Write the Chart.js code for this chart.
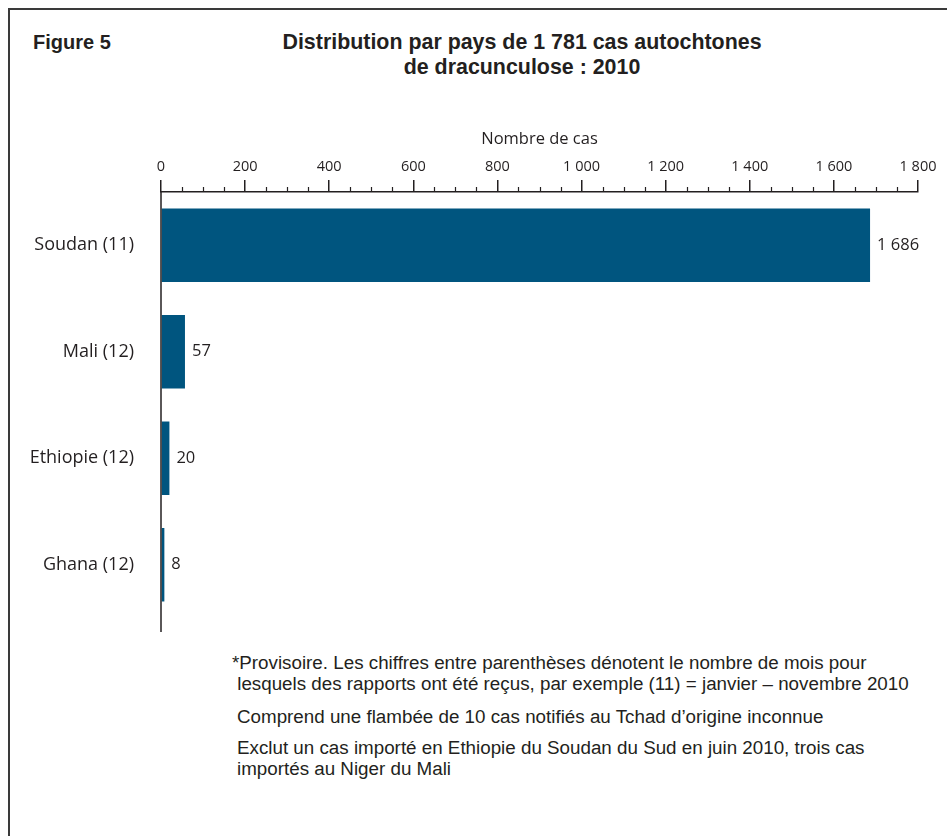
<!DOCTYPE html>
<html>
<head>
<meta charset="utf-8">
<script src="https://cdn.jsdelivr.net/npm/chart.js@4/dist/chart.umd.min.js"></script>
<style>
  body { margin: 0; background: #fff; width: 947px; height: 836px; overflow: hidden; position: relative; }
  #frame { position: absolute; left: 8px; top: 8px; width: 960px; height: 860px; border-left: 2px solid #3a3a3a; border-top: 2px solid #3a3a3a; }
  .head { position: absolute; font-family: "Liberation Sans", Arial, sans-serif; font-weight: bold; color: #231f20; }
  #fig { left: 33px; top: 31px; font-size: 20px; }
  #title { left: 222px; width: 600px; top: 30px; text-align: center; line-height: 25px; font-size: 21.4px; }
  #chart-box { position: absolute; left: 0; top: 120px; width: 947px; height: 520px; }
  #chart-box canvas { display: block; }
  .notes { position: absolute; font-family: "Liberation Sans", Arial, sans-serif; font-size: 18.8px; color: #231f20; line-height: 21px; white-space: nowrap; }
</style>
</head>
<body>
<div id="frame"></div>
<div class="head" id="fig">Figure 5</div>
<div class="head" id="title">Distribution par pays de 1 781 cas autochtones<br>de dracunculose : 2010</div>
<div id="chart-box"><canvas id="chart" width="947" height="520"></canvas></div>
<div class="notes" style="left:232px;top:652px">*Provisoire. Les chiffres entre parenthèses dénotent le nombre de mois pour<br>&nbsp;lesquels des rapports ont été reçus, par exemple (11) = janvier – novembre 2010</div>
<div class="notes" style="left:237px;top:706px">Comprend une flambée de 10 cas notifiés au Tchad d’origine inconnue</div>
<div class="notes" style="left:237px;top:737px">Exclut un cas importé en Ethiopie du Soudan du Sud en juin 2010, trois cas<br>importés au Niger du Mali</div>
<script>
const categories = ['Soudan (11)', 'Mali (12)', 'Ethiopie (12)', 'Ghana (12)']
const cases = [1686, 57, 20, 8]
const axisMax = 1800
const majorStep = 200
const minorStep = 50

const barColor = '#00557f'
const inkColor = '#231f20'
const labelFont = '"Open Sans", "Noto Sans", sans-serif'

function spaced(v) {
  return String(v).replace(/\B(?=(\d{3})+(?!\d))/g, ' ')
}

// minor ticks on the top axis + the left axis line (runs a bit past the last bar)
const axisExtras = {
  id: 'axisExtras',
  afterDraw(chart) {
    const ctx = chart.ctx
    const x = chart.scales.x
    const area = chart.chartArea
    ctx.save()
    ctx.strokeStyle = inkColor
    ctx.lineWidth = 1.2
    ctx.beginPath()
    for (let v = 0; v <= axisMax; v += minorStep) {
      if (v % majorStep === 0) continue
      const px = Math.round(x.getPixelForValue(v)) + 0.5
      ctx.moveTo(px, area.top)
      ctx.lineTo(px, area.top - 5)
    }
    ctx.stroke()
    ctx.lineWidth = 1.5
    ctx.beginPath()
    ctx.moveTo(area.left, area.top)
    ctx.lineTo(area.left, area.bottom + 14)
    ctx.stroke()
    ctx.restore()
  }
}

const valueLabels = {
  id: 'valueLabels',
  afterDatasetsDraw(chart) {
    const ctx = chart.ctx
    const meta = chart.getDatasetMeta(0)
    ctx.save()
    ctx.fillStyle = inkColor
    ctx.font = '16.5px ' + labelFont
    ctx.textBaseline = 'middle'
    meta.data.forEach((bar, i) => {
      ctx.fillText(spaced(cases[i]), bar.x + 7, bar.y)
    })
    ctx.restore()
  }
}

new Chart(document.getElementById('chart'), {
  type: 'bar',
  data: {
    labels: categories,
    datasets: [{
      data: cases,
      backgroundColor: barColor,
      borderWidth: 0,
      categoryPercentage: 0.69,
      barPercentage: 1
    }]
  },
  options: {
    indexAxis: 'y',
    responsive: false,
    animation: false,
    layout: { padding: { left: 0, right: 29, top: 0, bottom: 22 } },
    plugins: { legend: { display: false }, tooltip: { enabled: false } },
    scales: {
      x: {
        position: 'top',
        min: 0,
        max: axisMax,
        afterFit(s) { s.height = 72 },
        ticks: {
          stepSize: majorStep,
          padding: 4,
          color: inkColor,
          font: { family: labelFont, size: 14.5 },
          callback: v => spaced(v),
          maxRotation: 0
        },
        grid: { drawOnChartArea: false, drawTicks: true, tickLength: 12, color: inkColor, lineWidth: 1.5 },
        border: { display: true, color: inkColor, width: 1.5 },
        title: {
          display: true,
          text: 'Nombre de cas',
          color: inkColor,
          font: { family: labelFont, size: 16.5 },
          padding: { top: 9, bottom: 0 }
        }
      },
      y: {
        // fixed width, and no label padding eaten from the plot height
        afterFit(s) {
          s.width = 161
          s.paddingTop = 0
          s.paddingBottom = 0
        },
        ticks: {
          padding: 27,
          color: inkColor,
          font: { family: labelFont, size: 18 }
        },
        grid: { display: false, drawTicks: false },
        border: { display: false }
      }
    }
  },
  plugins: [axisExtras, valueLabels]
})
</script>
</body>
</html>
